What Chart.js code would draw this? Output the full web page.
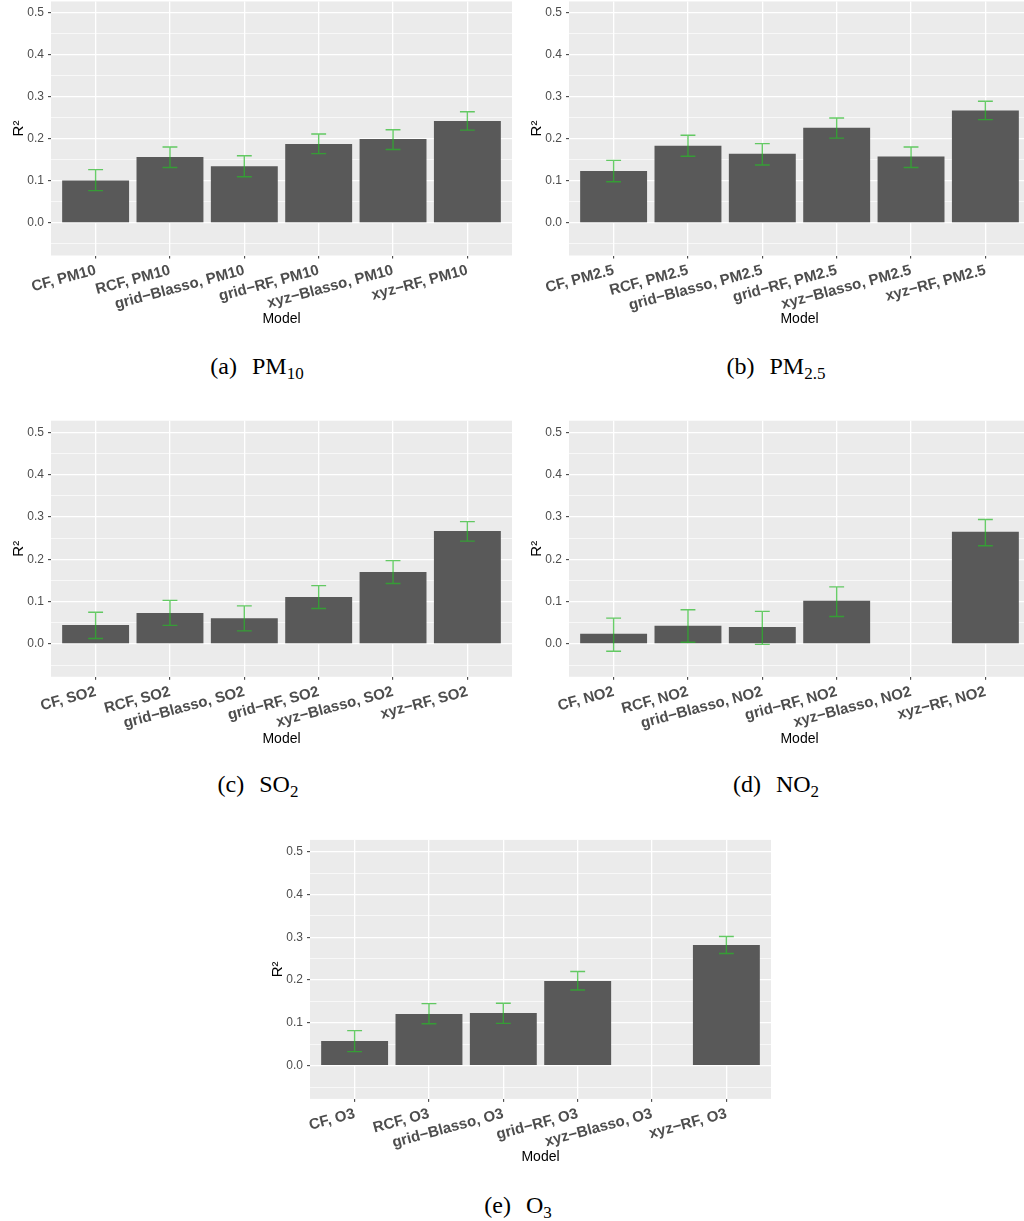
<!DOCTYPE html>
<html>
<head>
<meta charset="utf-8">
<script src="https://cdn.jsdelivr.net/npm/chart.js@4.4.0/dist/chart.umd.min.js"></script>
<style>
  html, body { margin: 0; padding: 0; background: #fff; }
  #page { position: relative; width: 1024px; height: 1221px; overflow: hidden; }
  #page canvas { position: absolute; }
  .cap { position: absolute; font-family: "Liberation Serif", "DejaVu Serif", serif; font-size: 24px; color: #000;
         white-space: nowrap; transform: translate(-50%, -50%); line-height: 1; }
  .cap .lbl { margin-right: 15px; }
  .cap sub { font-size: 17px; vertical-align: -5px; line-height: 0; }
</style>
</head>
<body>
<div id="page">
  <div class="cap" style="left:257px; top:366px"><span class="lbl">(a)</span>PM<sub>10</sub></div>
  <div class="cap" style="left:776px; top:366px"><span class="lbl">(b)</span>PM<sub>2.5</sub></div>
  <div class="cap" style="left:258px; top:784px"><span class="lbl">(c)</span>SO<sub>2</sub></div>
  <div class="cap" style="left:776px; top:784px"><span class="lbl">(d)</span>NO<sub>2</sub></div>
  <div class="cap" style="left:518px; top:1205px"><span class="lbl">(e)</span>O<sub>3</sub></div>
</div>
<script>
// --- DATA ---
const models = ['CF', 'RCF', 'grid−Blasso', 'grid−RF', 'xyz−Blasso', 'xyz−RF'];

const pm10   = [0.101, 0.157, 0.135, 0.188, 0.200, 0.243];
const pm10Lo = [0.077, 0.132, 0.110, 0.165, 0.175, 0.221];
const pm10Hi = [0.127, 0.181, 0.160, 0.212, 0.222, 0.265];

const pm25   = [0.124, 0.184, 0.165, 0.227, 0.158, 0.268];
const pm25Lo = [0.098, 0.159, 0.138, 0.202, 0.132, 0.246];
const pm25Hi = [0.149, 0.209, 0.189, 0.250, 0.181, 0.290];

const so2    = [0.045, 0.073, 0.061, 0.111, 0.170, 0.267];
const so2Lo  = [0.013, 0.044, 0.031, 0.084, 0.143, 0.243];
const so2Hi  = [0.075, 0.103, 0.090, 0.138, 0.197, 0.289];

const no2    = [0.024, 0.043, 0.040, 0.102, null, 0.265];
const no2Lo  = [-0.017, 0.004, -0.001, 0.065, null, 0.232];
const no2Hi  = [0.061, 0.081, 0.077, 0.135, null, 0.294];

const o3     = [0.058, 0.121, 0.123, 0.198, null, 0.282];
const o3Lo   = [0.033, 0.098, 0.099, 0.177, null, 0.262];
const o3Hi   = [0.082, 0.145, 0.146, 0.220, null, 0.302];

const yMajor  = [0, 0.1, 0.2, 0.3, 0.4, 0.5];
const yMinor  = [-0.05, 0.05, 0.15, 0.25, 0.35, 0.45];
const yLabels = ['0.0', '0.1', '0.2', '0.3', '0.4', '0.5'];
const yMin = -0.0775, yMax = 0.5275;

Chart.defaults.font.family = '"Liberation Sans", Arial, sans-serif';

// --- PLUGINS ---
const panelBg = {
  id: 'panelBg',
  beforeDraw(chart) {
    const { ctx, chartArea: a } = chart;
    ctx.save();
    ctx.fillStyle = '#EBEBEB';
    ctx.fillRect(a.left, a.top, a.right - a.left, a.bottom - a.top);
    ctx.restore();
  }
};

const errorBars = {
  id: 'errorBars',
  afterDatasetsDraw(chart) {
    const { ctx, scales: { x, y } } = chart;
    const ds = chart.data.datasets[0];
    const half = x.getPixelForValue(0.1) - x.getPixelForValue(0);
    ctx.save();
    ctx.strokeStyle = 'rgba(40,185,40,0.7)';
    ctx.lineWidth = 1.4;
    ds.errLo.forEach((lo, i) => {
      const hi = ds.errHi[i];
      if (lo == null || hi == null) return;
      const px = x.getPixelForValue(i);
      const y0 = y.getPixelForValue(lo), y1 = y.getPixelForValue(hi);
      ctx.beginPath();
      ctx.moveTo(px - half, y1); ctx.lineTo(px + half, y1);
      ctx.moveTo(px, y1); ctx.lineTo(px, y0);
      ctx.moveTo(px - half, y0); ctx.lineTo(px + half, y0);
      ctx.stroke();
    });
    ctx.restore();
  }
};

// --- PANELS ---
const panels = [
  { tag: 'PM10',  vals: pm10, lo: pm10Lo, hi: pm10Hi, left: 0,   plotTop: 1.45,  plotBottom: 255.5,  titleY: 319 },
  { tag: 'PM2.5', vals: pm25, lo: pm25Lo, hi: pm25Hi, left: 518, plotTop: 1.45,  plotBottom: 255.5,  titleY: 319 },
  { tag: 'SO2',   vals: so2,  lo: so2Lo,  hi: so2Hi,  left: 0,   plotTop: 420.7, plotBottom: 676.8,  titleY: 738.7 },
  { tag: 'NO2',   vals: no2,  lo: no2Lo,  hi: no2Hi,  left: 518, plotTop: 420.7, plotBottom: 676.8,  titleY: 738.7 },
  { tag: 'O3',    vals: o3,   lo: o3Lo,   hi: o3Hi,   left: 259, plotTop: 839.9, plotBottom: 1098.9, titleY: 1157.5 }
];

const page = document.getElementById('page');
const W = 512, yAxisW = 51;

panels.forEach(p => {
  const top = Math.floor(p.plotTop) - 1;
  const bottom = Math.round(p.titleY + 21);
  const H = bottom - top;
  const xAxisH = bottom - p.plotBottom;
  const labels = models.map(m => m + ', ' + p.tag);

  const cv = document.createElement('canvas');
  cv.width = W; cv.height = H;
  cv.style.left = p.left + 'px'; cv.style.top = top + 'px';
  cv.style.width = W + 'px'; cv.style.height = H + 'px';
  page.appendChild(cv);

  new Chart(cv, {
    type: 'bar',
    data: {
      datasets: [{
        data: p.vals.map((v, i) => ({ x: i, y: v })),
        errLo: p.lo,
        errHi: p.hi,
        backgroundColor: '#595959',
        borderWidth: 0,
        categoryPercentage: 1,
        barPercentage: 0.9
      }]
    },
    options: {
      responsive: false,
      animation: false,
      devicePixelRatio: 1,
      events: [],
      layout: { padding: { top: p.plotTop - top, left: 0, right: 0, bottom: 0 } },
      plugins: { legend: { display: false }, tooltip: { enabled: false } },
      scales: {
        x: {
          type: 'linear',
          min: -0.6, max: 5.6,
          offset: false,
          afterBuildTicks: s => { s.ticks = labels.map((_, i) => ({ value: i })); },
          afterFit: s => { s.height = xAxisH; s.paddingLeft = 0; s.paddingRight = 0; },
          ticks: {
            autoSkip: false, minRotation: 15, maxRotation: 15, padding: 3,
            color: '#4D4D4D', font: { size: 15, weight: 'bold' },
            callback: v => labels[v]
          },
          grid: { offset: false, color: '#FFFFFF', lineWidth: 1.3, tickLength: 3, tickColor: '#333333', tickWidth: 1 },
          border: { display: false },
          title: { display: true, text: 'Model', color: '#000', font: { size: 14 },
                   padding: { top: 0, bottom: bottom - p.titleY - 8.4 } }
        },
        y: {
          min: yMin, max: yMax,
          afterBuildTicks: s => {
            s.ticks = yMinor.concat(yMajor).sort((a, b) => a - b).map(v => ({ value: v }));
          },
          afterFit: s => { s.width = yAxisW; s.paddingTop = 0; s.paddingBottom = 0; },
          ticks: {
            padding: 4, color: '#4D4D4D', font: { size: 12 },
            callback: v => { const k = yMajor.indexOf(v); return k >= 0 ? yLabels[k] : ''; }
          },
          grid: {
            color: '#FFFFFF',
            lineWidth: c => (c.tick && yMajor.includes(c.tick.value)) ? 1.3 : 0.65,
            tickLength: 3,
            tickColor: c => (c.tick && yMajor.includes(c.tick.value)) ? '#333333' : 'rgba(0,0,0,0)',
            tickWidth: 1
          },
          border: { display: false },
          title: { display: true, text: 'R²', color: '#000', font: { size: 15 },
                   padding: { top: 9.6, bottom: 0 } }
        }
      }
    },
    plugins: [panelBg, errorBars]
  });
});
</script>
</body>
</html>
